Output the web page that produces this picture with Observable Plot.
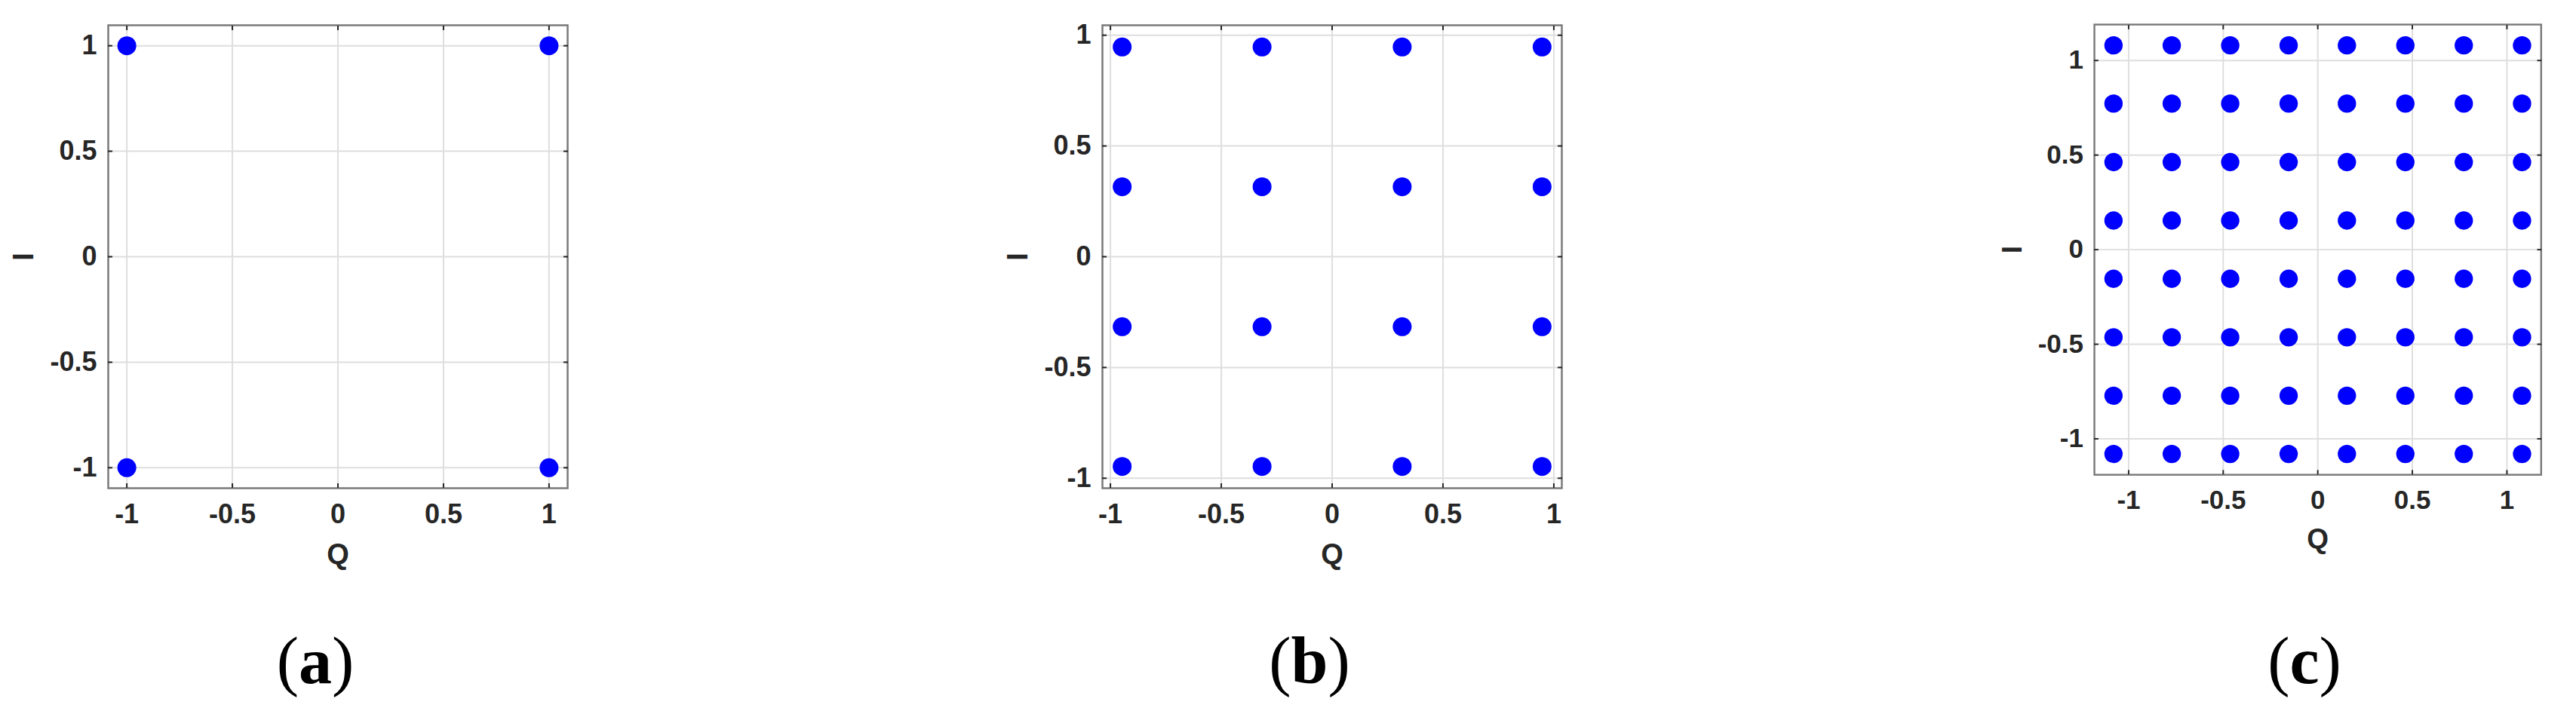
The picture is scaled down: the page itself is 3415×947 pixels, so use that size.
<!DOCTYPE html>
<html>
<head>
<meta charset="utf-8">
<script src="https://cdn.jsdelivr.net/npm/d3@7"></script>
<script src="https://cdn.jsdelivr.net/npm/@observablehq/plot@0.6"></script>
<style>
html, body { margin: 0; padding: 0; background: #fff; }
#fig { position: relative; width: 3415px; height: 947px; overflow: hidden; background: #fff; }
.panel { position: absolute; top: 0; }
.cap { position: absolute; width: 400px; text-align: center; top: 833px;
  font-family: "Liberation Serif", "Times New Roman", serif; font-size: 88px; line-height: 88px; color: #000; }
.cap b { font-weight: bold; }
</style>
</head>
<body>
<div id="fig"></div>
<script>
// ---- data ----
const tickValues = [-1, -0.5, 0, 0.5, 1];
const tickLabels = ["-1", "-0.5", "0", "0.5", "1"];
const axisLabelQ = "Q";
const axisLabelI = "I";
// constellation levels (same on Q and I axes) for each panel
const levelsA = [-1, 1];
const levelsB = [-0.947, -0.316, 0.316, 0.947];
const levelsC = [-1.08, -0.772, -0.463, -0.154, 0.154, 0.463, 0.772, 1.08];
const captionLetters = ["a", "b", "c"];
// axis limits
const xDomains = [[-1.088, 1.088], [-1.036, 1.036], [-1.181, 1.181]];
const yDomains = [[-1.097, 1.097], [-1.045, 1.045], [-1.19, 1.19]];

const panelLevels = [levelsA, levelsB, levelsC];
const panelLeft = [0, 1318, 2637];
const fmt = d => tickLabels[tickValues.indexOf(d)];
const blank = () => "";

const fig = document.getElementById("fig");

panelLevels.forEach((levels, k) => {
  const pts = [];
  for (const q of levels) for (const i of levels) pts.push({q, i});

  const chart = Plot.plot({
    width: 800,
    height: 780,
    marginLeft: 143,
    marginRight: 48,
    marginTop: 33,
    marginBottom: 133,
    style: {
      fontFamily: '"Liberation Sans", Arial, sans-serif',
      fontWeight: "bold",
      fontSize: "36px",
      color: "#262626",
      background: "transparent",
      overflow: "visible"
    },
    x: {domain: xDomains[k]},
    y: {domain: yDomains[k]},
    marks: [
      Plot.gridX(tickValues, {stroke: "#dedede", strokeOpacity: 1, strokeWidth: 2}),
      Plot.gridY(tickValues, {stroke: "#dedede", strokeOpacity: 1, strokeWidth: 2}),
      Plot.dot(pts, {x: "q", y: "i", r: 12.5, fill: "#0000ff", stroke: null}),
      Plot.frame({stroke: "#7a7a7a", strokeWidth: 2.5}),
      Plot.axisX(tickValues, {anchor: "bottom", tickSize: -6, tickPadding: 27, tickFormat: fmt, label: null, strokeWidth: 2}),
      Plot.axisX(tickValues, {anchor: "top", tickSize: -6, tickFormat: blank, label: null, strokeWidth: 2}),
      Plot.axisY(tickValues, {anchor: "left", tickSize: -6, tickPadding: 21, tickFormat: fmt, label: null, strokeWidth: 2}),
      Plot.axisY(tickValues, {anchor: "right", tickSize: -6, tickFormat: blank, label: null, strokeWidth: 2}),
      Plot.axisX([], {anchor: "bottom", tickSize: 0, label: axisLabelQ, labelAnchor: "center", labelArrow: "none", labelOffset: 100, fontSize: 38}),
      Plot.axisY([], {anchor: "left", tickSize: 0, label: axisLabelI, labelAnchor: "center", labelArrow: "none", labelOffset: 126, fontSize: 38})
    ]
  });

  const wrap = document.createElement("div");
  wrap.className = "panel";
  wrap.style.left = panelLeft[k] + "px";
  wrap.appendChild(chart);
  fig.appendChild(wrap);

  const cap = document.createElement("div");
  cap.className = "cap";
  // caption centred slightly left of the panel centre, as in the reference
  cap.style.left = (panelLeft[k] + 447.5 - 29.5 - 200) + "px";
  cap.innerHTML = "(<b>" + captionLetters[k] + "</b>)";
  fig.appendChild(cap);
});
</script>
</body>
</html>
